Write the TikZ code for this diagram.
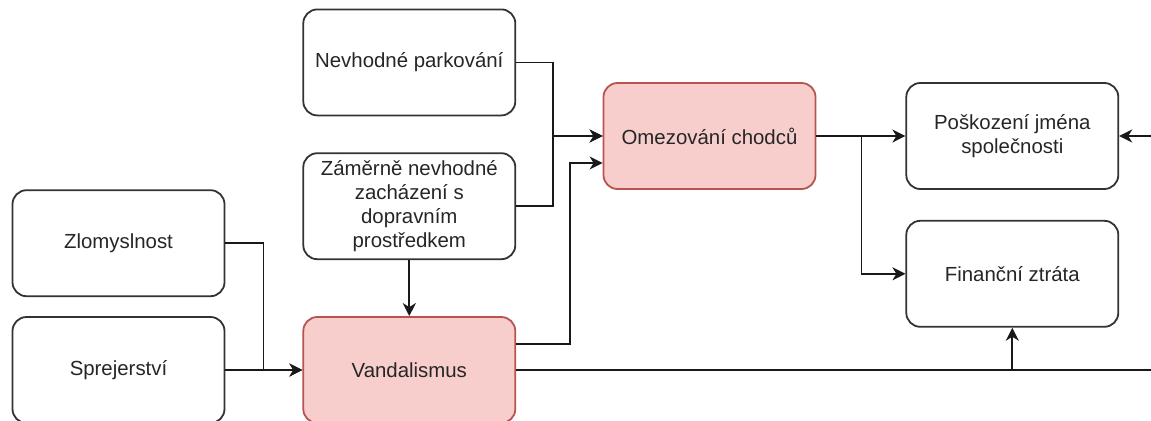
\documentclass[tikz,border=0pt]{standalone}
\usepackage{fontspec}
\setsansfont{Liberation Sans}
\usetikzlibrary{arrows.meta, positioning}
\definecolor{vhl}{HTML}{F8CECC}
\definecolor{vhlline}{HTML}{B85450}
\definecolor{vtext}{HTML}{262626}
\tikzset{
  % obecny box
  box/.style={draw=black!80, line width=0.9pt, rounded corners=7pt,
    minimum width=106pt, minimum height=53pt, align=center, fill=white,
    font=\fontsize{10.2}{12}\selectfont\sffamily, text=vtext, inner sep=2pt},
  % zvyrazneny box (jev)
  boxhl/.style={box, fill=vhl, draw=vhlline},
  % spojnice
  link/.style={line width=0.9pt, black!90},
  arr/.style={link, -{Stealth[length=6.5pt, width=6.5pt, inset=2pt]}},
}
\begin{document}
\begin{tikzpicture}
  \useasboundingbox (0,0) rectangle (575.5pt,210pt);
  \coordinate (rim) at (575.5pt,0);
  % levy sloupec
  \node[box] (sprej) at (59.25pt,25pt) {Sprejerství};
  \node[box, above=9.5pt of sprej] (zlom) {Zlomyslnost};
  % prostredni sloupec
  \node[boxhl, right=38.5pt of sprej] (vand) {Vandalismus};
  \node[box, above=28pt of vand] (zam) {Záměrně nevhodné\\zacházení s\\dopravním\\prostředkem};
  \node[box, above=18pt of zam] (park) {Nevhodné parkování};
  \node[boxhl] (omez) at (354.75pt,142pt) {Omezování chodců};
  % dusledky
  \node[box, right=44.5pt of omez] (posk) {Poškození jména\\společnosti};
  \node[box, below=15pt of posk] (fin) {Finanční ztráta};
  \coordinate (vandout) at (vand.east -| rim);
  \coordinate (poskin) at (posk.east -| rim);

  \draw[arr] (park.east) -- ++(18.5pt,0) |- (omez.west);
  \draw[arr] (zam.east) -- ++(18.5pt,0) |- (omez.west);
  \draw[arr] ([yshift=13pt]vand.east) -- ++(27pt,0) |- ([yshift=-13.5pt]omez.west);
  \draw[arr] (zam.south) -- (vand.north);
  \draw[arr] (zlom.east) -- ++(19pt,0) |- (vand.west);
  \draw[arr] (sprej.east) -- (vand.west);
  \draw[arr] (omez.east) -- (posk.west);
  \draw[arr] ([xshift=22.5pt]omez.east) |- (fin.west);
  \draw[link] (vand.east) -- (vandout);
  \draw[arr] (fin.south |- vand.east) -- (fin.south);
  \draw[arr] (poskin) -- (posk.east);
\end{tikzpicture}
\end{document}
